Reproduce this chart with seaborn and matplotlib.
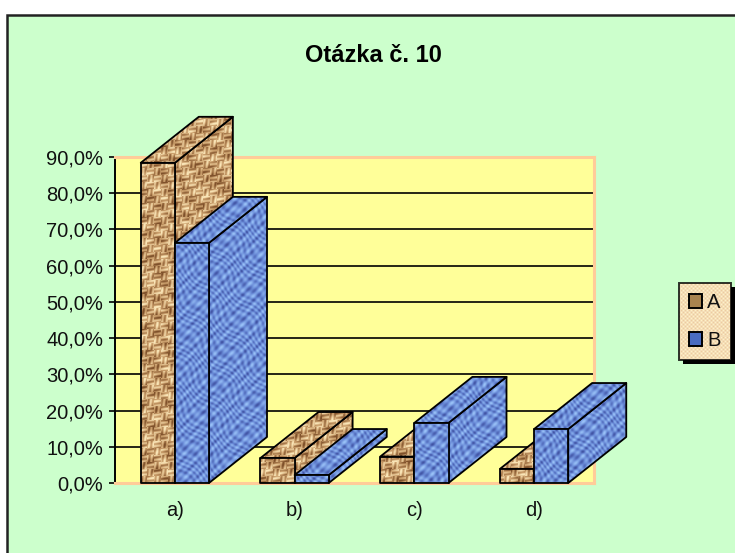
import numpy as np
import pandas as pd
import seaborn as sns
import matplotlib.pyplot as plt
from matplotlib.patches import Polygon, Rectangle

categories = ["a)", "b)", "c)", "d)"]
series_a = [88.4, 6.9, 7.3, 3.9]
series_b = [66.3, 2.2, 16.6, 14.9]
y_ticks = [0, 10, 20, 30, 40, 50, 60, 70, 80, 90]
y_labels = ["0,0%", "10,0%", "20,0%", "30,0%", "40,0%", "50,0%", "60,0%", "70,0%", "80,0%", "90,0%"]

W, H = 735, 553
DEPTH_X, DEPTH_Y = 58, 46  # 3d offset of the bars, pixels


def ramp(v, dark, mid, light):
    v = np.clip(v, 0, 1)[..., None]
    dark, mid, light = np.array(dark), np.array(mid), np.array(light)
    low = dark + (mid - dark) * np.clip(v * 2, 0, 1)
    high = mid + (light - mid) * np.clip(v * 2 - 1, 0, 1)
    return np.where(v < 0.5, low, high)


def texture(kind):
    """Woven patterns covering the whole figure, one texel per pixel."""
    yy, xx = np.mgrid[0:H, 0:W]
    if kind == "A":
        cell = ((xx // 7 + yy // 7) % 2).astype(bool)
        weave = np.where(cell, np.sin(yy * 1.4 + xx * 0.2), np.sin(xx * 1.4 + yy * 0.2))
        blotch = np.sin(xx * 0.23 + yy * 0.11 + 2 * np.sin(yy * 0.07)) * np.sin(yy * 0.37 - 1 + 2 * np.sin(xx * 0.09))
        v = 0.5 + 0.26 * weave + 0.3 * blotch
        return ramp(v, (0.50, 0.32, 0.17), (0.79, 0.62, 0.42), (0.98, 0.90, 0.72))
    if kind == "B":
        warp = 1.6 * np.sin(xx * 0.13 + yy * 0.05) + 1.3 * np.sin(yy * 0.17 - xx * 0.07)
        v = 0.55 + 0.34 * np.sin(xx * 0.8 + warp) * np.sin(yy * 0.75 - warp) + 0.12 * np.sin(xx * 0.31 + yy * 0.53)
        return ramp(v, (0.22, 0.28, 0.60), (0.41, 0.54, 0.84), (0.60, 0.76, 0.97))
    v = 0.5 + 0.5 * np.sin(xx * np.pi / 2) * np.sin(yy * np.pi / 2)
    return ramp(v, (0.93, 0.80, 0.62), (0.96, 0.87, 0.72), (1.0, 0.95, 0.78))


df = pd.DataFrame({
    "cat": categories * 2,
    "val": series_a + series_b,
    "ser": ["A"] * 4 + ["B"] * 4,
})

sns.set_theme(style="white")
plt.rcParams["font.family"] = ["Liberation Sans", "DejaVu Sans"]
plt.rcParams["text.color"] = "black"

fig = plt.figure(figsize=(W / 100, H / 100), dpi=100, facecolor="white")
fig.patches.append(Rectangle((7 / W, -0.1), 1, 1.1 - 15 / H, transform=fig.transFigure, zorder=-1,
                             facecolor="#CCFFCC", edgecolor="#222222", linewidth=1.8))
ax = fig.add_axes([115 / W, (H - 483) / H, 479 / W, 326 / H])
ax.set_facecolor("#FFFF99")

sns.barplot(data=df, x="cat", y="val", hue="ser", palette=["#A8834F", "#4A6CC0"],
            width=0.57, gap=0, saturation=1, ax=ax, legend=True, zorder=2)
ax.set_xlim(-0.5, 3.5)
ax.set_ylim(0, 90)
ax.set_xlabel("")
ax.set_ylabel("")
ax.set_yticks(y_ticks, y_labels)
ax.tick_params(axis="y", length=4, width=1.2, color="black", pad=4.5, left=True,
               labelsize=14.5, labelcolor="#111111")
ax.tick_params(axis="x", length=0, pad=13, labelsize=14.5, labelcolor="#111111")
for y in y_ticks[1:-1]:
    ax.axhline(y, color="black", linewidth=1.2, zorder=1)
for side in ["top", "right", "bottom"]:
    ax.spines[side].set_color("#FFCC99")
    ax.spines[side].set_linewidth(2.2)
ax.spines["left"].set_color("black")
ax.spines["left"].set_linewidth(1.4)

dx = DEPTH_X / 479 * 4
dy = DEPTH_Y / 326 * 90
textures = {"A": texture("A"), "B": texture("B")}


def textured_face(points, kind, z):
    face = Polygon(points, closed=True, facecolor="none", edgecolor="black",
                   linewidth=1.3, zorder=z + 0.1, clip_on=False, joinstyle="round")
    ax.add_patch(face)
    im = ax.imshow(textures[kind], extent=(0, 1, 0, 1), transform=fig.transFigure,
                   aspect="auto", zorder=z, interpolation="nearest")
    im.set_clip_box(fig.bbox)
    im.set_clip_path(face)


bars = [p for p in ax.patches if p.get_height() > 0 and p.get_width() > 0]
bars = sorted(bars, key=lambda p: p.get_x())
z = 3
for bar in bars:
    x0, x1 = bar.get_x(), bar.get_x() + bar.get_width()
    h = bar.get_height()
    kind = "A" if x0 + bar.get_width() / 2 < round(x0 + bar.get_width()) else "B"
    textured_face([(x1, 0), (x1 + dx, dy), (x1 + dx, h + dy), (x1, h)], kind, z)
    textured_face([(x0, h), (x0 + dx, h + dy), (x1 + dx, h + dy), (x1, h)], kind, z + 1)
    textured_face([(x0, 0), (x0, h), (x1, h), (x1, 0)], kind, z + 2)
    z += 3

fig.suptitle("Otázka č. 10", x=373 / W, y=1 - 56 / H, va="center", fontsize=17,
             fontweight="bold", color="black")

leg = ax.legend(loc="upper left", bbox_to_anchor=(679 / W, 1 - 283 / H), bbox_transform=fig.transFigure,
                title=None, frameon=True, fancybox=False, facecolor="none", edgecolor="black",
                framealpha=None, fontsize=14.5, handlelength=0.65, handleheight=0.65, handletextpad=0.25,
                labelspacing=0.95, borderpad=0.5, borderaxespad=0)
leg.set_zorder(50)
leg.get_frame().set_linewidth(1.4)
for handle in leg.legend_handles:
    handle.set_edgecolor("black")
    handle.set_linewidth(1.4)
for label in leg.get_texts():
    label.set_color("#111111")

# legend backing: shadow and dotted fill sit under the transparent frame
fig.canvas.draw()
ext = leg.get_frame().get_window_extent()
box = (ext.x0 / W, ext.y0 / H)
bw, bh = ext.width / W, ext.height / H
shadow = Rectangle((box[0] + 4 / W, box[1] - 4 / H), bw, bh, transform=fig.transFigure,
                   facecolor="black", edgecolor="none", zorder=48, clip_on=False)
ax.add_patch(shadow)
backing = Rectangle(box, bw, bh, transform=fig.transFigure, facecolor="#F5DDB4",
                    edgecolor="none", zorder=48.5, clip_on=False)
ax.add_patch(backing)
dots = ax.imshow(texture("legend"), extent=(0, 1, 0, 1), transform=fig.transFigure,
                 aspect="auto", zorder=49, interpolation="nearest")
dots.set_clip_path(backing)

ax.set_xlim(-0.5, 3.5)
ax.set_ylim(0, 90)

fig.savefig("out.png", dpi=100)
